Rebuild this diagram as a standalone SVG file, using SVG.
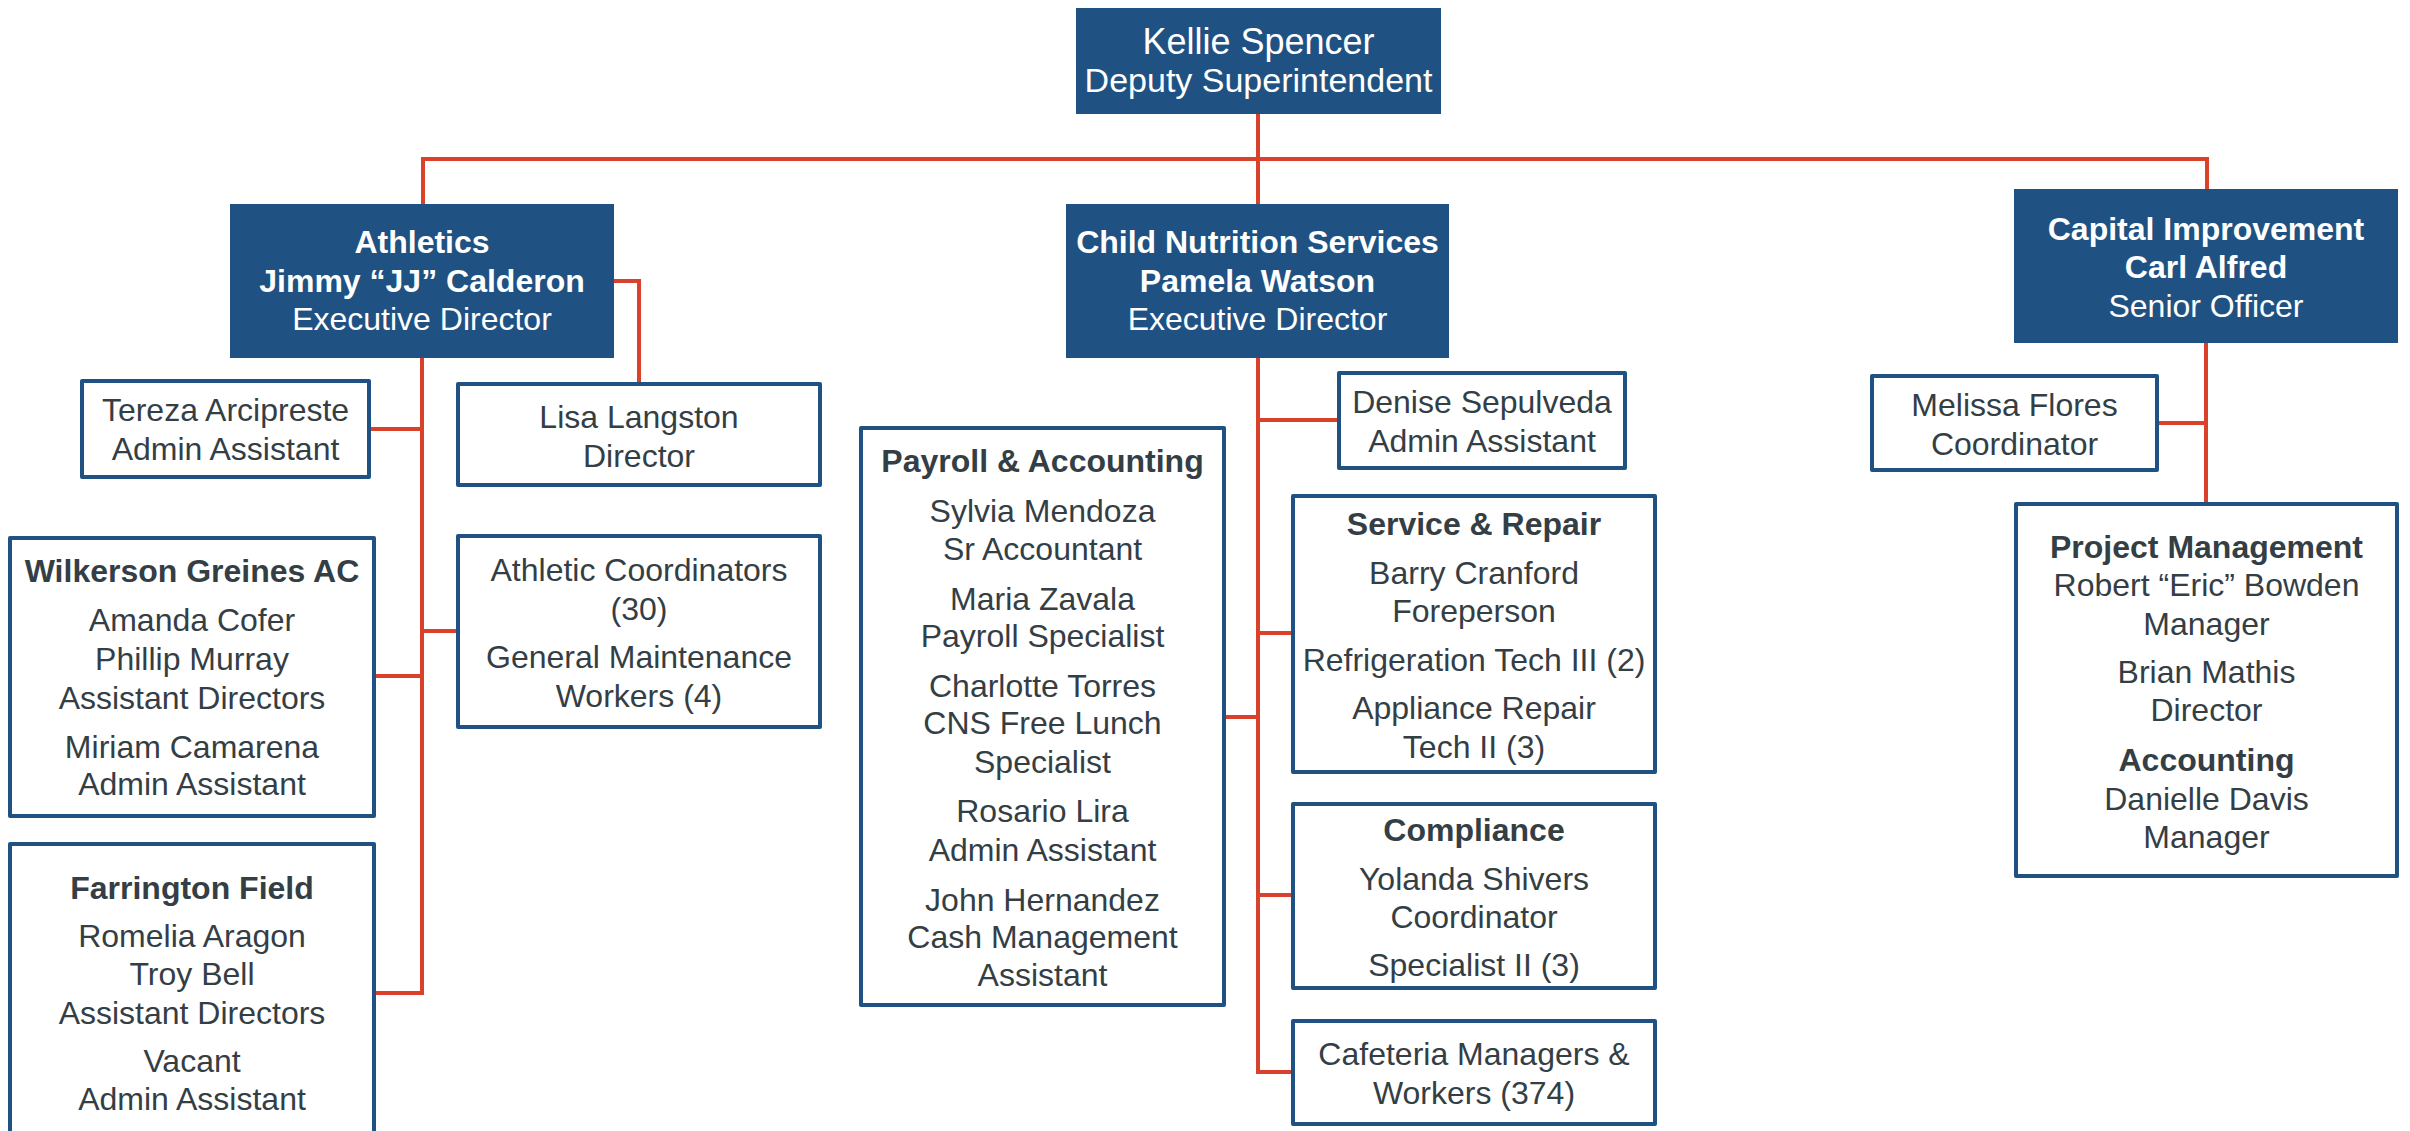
<svg xmlns="http://www.w3.org/2000/svg" width="2410" height="1131" viewBox="0 0 2410 1131">
<style>
text{font-family:"Liberation Sans",Arial,sans-serif;font-size:32px;text-anchor:middle}
.hd{fill:#1F5282}
.hd text{fill:#ffffff}
.bx{fill:#ffffff;stroke:#1F5282;stroke-width:4;stroke-linejoin:round}
.dk{fill:#343E45}
.b{font-weight:bold}
.cn{fill:none;stroke:#D9412B;stroke-width:4;stroke-linejoin:miter}
</style>
<rect width="2410" height="1131" fill="#ffffff"/>
<g id="connectors" class="cn">
<path d="M1258 114 V204"/>
<path d="M423 204 V159 H2207 V189"/>
<path d="M369 429 H422"/>
<path d="M374 676 H422"/>
<path d="M422 358 V993 H374"/>
<path d="M422 631 H458"/>
<path d="M614 281 H639 V384"/>
<path d="M1258 358 V1072 H1293"/>
<path d="M1258 420 H1339"/>
<path d="M1224 717 H1258"/>
<path d="M1258 633 H1293"/>
<path d="M1258 895 H1293"/>
<path d="M2206 343 V504"/>
<path d="M2157 423 H2206"/>
</g>
<g id="kellie" class="hd">
<rect x="1076" y="8" width="365" height="106"/>
<text x="1258.5" y="54" style="font-size:36px">Kellie Spencer</text>
<text x="1258.5" y="92" style="font-size:34px">Deputy Superintendent</text>
</g>
<g id="athletics" class="hd">
<rect x="230" y="204" width="384" height="154"/>
<text x="422" y="253" class="b">Athletics</text>
<text x="422" y="291.5" class="b">Jimmy “JJ” Calderon</text>
<text x="422" y="330">Executive Director</text>
</g>
<g id="cns" class="hd">
<rect x="1066" y="204" width="383" height="154"/>
<text x="1257.5" y="253" class="b">Child Nutrition Services</text>
<text x="1257.5" y="291.5" class="b">Pamela Watson</text>
<text x="1257.5" y="330">Executive Director</text>
</g>
<g id="capital" class="hd">
<rect x="2014" y="189" width="384" height="154"/>
<text x="2206" y="239.5" class="b">Capital Improvement</text>
<text x="2206" y="278" class="b">Carl Alfred</text>
<text x="2206" y="316.5">Senior Officer</text>
</g>
<g id="tereza">
<rect class="bx" x="82" y="381" width="287" height="96"/>
<text class="dk" x="225.5" y="421">Tereza Arcipreste</text>
<text class="dk" x="225.5" y="459.5">Admin Assistant</text>
</g>
<g id="lisa">
<rect class="bx" x="458" y="384" width="362" height="101"/>
<text class="dk" x="639" y="427.5">Lisa Langston</text>
<text class="dk" x="639" y="467">Director</text>
</g>
<g id="wilkerson">
<rect class="bx" x="10" y="538" width="364" height="278"/>
<text class="dk b" x="192" y="582">Wilkerson Greines AC</text>
<text class="dk" x="192" y="631">Amanda Cofer</text>
<text class="dk" x="192" y="670">Phillip Murray</text>
<text class="dk" x="192" y="708.5">Assistant Directors</text>
<text class="dk" x="192" y="758">Miriam Camarena</text>
<text class="dk" x="192" y="795">Admin Assistant</text>
</g>
<g id="farrington">
<rect class="bx" x="10" y="844" width="364" height="310"/>
<text class="dk b" x="192" y="898.5">Farrington Field</text>
<text class="dk" x="192" y="947">Romelia Aragon</text>
<text class="dk" x="192" y="985">Troy Bell</text>
<text class="dk" x="192" y="1023.5">Assistant Directors</text>
<text class="dk" x="192" y="1072">Vacant</text>
<text class="dk" x="192" y="1110">Admin Assistant</text>
</g>
<g id="athletic-coordinators">
<rect class="bx" x="458" y="536" width="362" height="191"/>
<text class="dk" x="639" y="580.5">Athletic Coordinators</text>
<text class="dk" x="639" y="619.5">(30)</text>
<text class="dk" x="639" y="667.5">General Maintenance</text>
<text class="dk" x="639" y="706.5">Workers (4)</text>
</g>
<g id="payroll">
<rect class="bx" x="861" y="428" width="363" height="577"/>
<text class="dk b" x="1042.5" y="472">Payroll &amp; Accounting</text>
<text class="dk" x="1042.5" y="521.5">Sylvia Mendoza</text>
<text class="dk" x="1042.5" y="559.5">Sr Accountant</text>
<text class="dk" x="1042.5" y="609.5">Maria Zavala</text>
<text class="dk" x="1042.5" y="647">Payroll Specialist</text>
<text class="dk" x="1042.5" y="696.5">Charlotte Torres</text>
<text class="dk" x="1042.5" y="734">CNS Free Lunch</text>
<text class="dk" x="1042.5" y="772.5">Specialist</text>
<text class="dk" x="1042.5" y="822">Rosario Lira</text>
<text class="dk" x="1042.5" y="860.5">Admin Assistant</text>
<text class="dk" x="1042.5" y="910.5">John Hernandez</text>
<text class="dk" x="1042.5" y="948">Cash Management</text>
<text class="dk" x="1042.5" y="985.5">Assistant</text>
</g>
<g id="denise">
<rect class="bx" x="1339" y="373" width="286" height="95"/>
<text class="dk" x="1482" y="412.5">Denise Sepulveda</text>
<text class="dk" x="1482" y="451.5">Admin Assistant</text>
</g>
<g id="service-repair">
<rect class="bx" x="1293" y="496" width="362" height="276"/>
<text class="dk b" x="1474" y="534.5">Service &amp; Repair</text>
<text class="dk" x="1474" y="583.5">Barry Cranford</text>
<text class="dk" x="1474" y="621.5">Foreperson</text>
<text class="dk" x="1474" y="670.5">Refrigeration Tech III (2)</text>
<text class="dk" x="1474" y="719">Appliance Repair</text>
<text class="dk" x="1474" y="758">Tech II (3)</text>
</g>
<g id="compliance">
<rect class="bx" x="1293" y="804" width="362" height="184"/>
<text class="dk b" x="1474" y="840.5">Compliance</text>
<text class="dk" x="1474" y="889.5">Yolanda Shivers</text>
<text class="dk" x="1474" y="927.5">Coordinator</text>
<text class="dk" x="1474" y="976">Specialist II (3)</text>
</g>
<g id="cafeteria">
<rect class="bx" x="1293" y="1021" width="362" height="103"/>
<text class="dk" x="1474" y="1065">Cafeteria Managers &amp;</text>
<text class="dk" x="1474" y="1103.5">Workers (374)</text>
</g>
<g id="melissa">
<rect class="bx" x="1872" y="376" width="285" height="94"/>
<text class="dk" x="2014.5" y="416">Melissa Flores</text>
<text class="dk" x="2014.5" y="454.5">Coordinator</text>
</g>
<g id="project-management">
<rect class="bx" x="2016" y="504" width="381" height="372"/>
<text class="dk b" x="2206.5" y="557.5">Project Management</text>
<text class="dk" x="2206.5" y="595.5">Robert “Eric” Bowden</text>
<text class="dk" x="2206.5" y="635">Manager</text>
<text class="dk" x="2206.5" y="683">Brian Mathis</text>
<text class="dk" x="2206.5" y="721">Director</text>
<text class="dk b" x="2206.5" y="771">Accounting</text>
<text class="dk" x="2206.5" y="809.5">Danielle Davis</text>
<text class="dk" x="2206.5" y="848">Manager</text>
</g>
</svg>
